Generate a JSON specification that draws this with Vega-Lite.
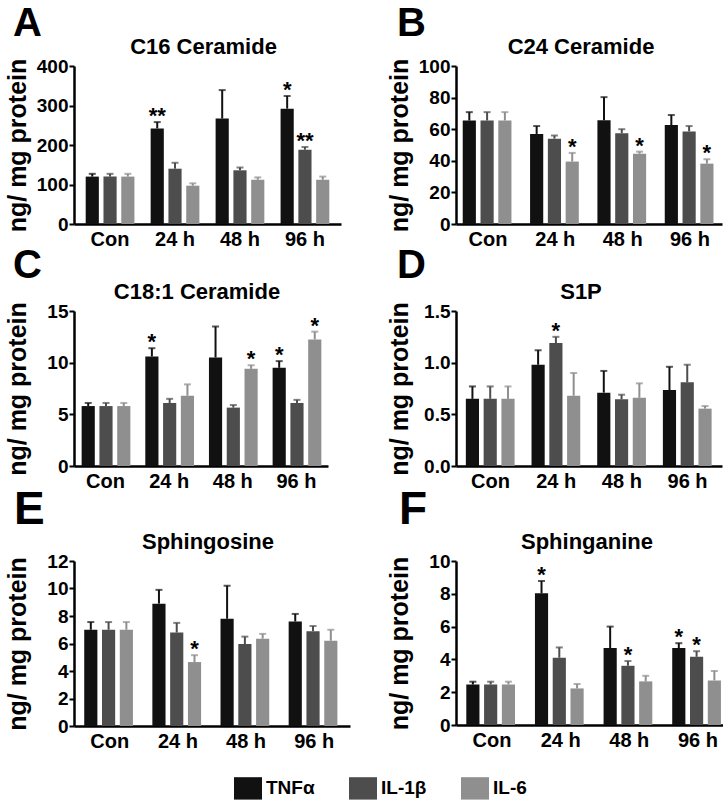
{
  "$schema": "https://vega.github.io/schema/vega-lite/v6.json",
  "padding": {"left": 5, "top": 4, "right": 0, "bottom": 0},
  "background": "white",
  "datasets": {
    "A": [
      {"time": "Con", "cytokine": "TNFα", "mean": 120, "upper": 127, "sig": ""},
      {"time": "Con", "cytokine": "IL-1β", "mean": 120, "upper": 127, "sig": ""},
      {"time": "Con", "cytokine": "IL-6", "mean": 120, "upper": 127, "sig": ""},
      {"time": "24 h", "cytokine": "TNFα", "mean": 242, "upper": 258, "sig": "**"},
      {"time": "24 h", "cytokine": "IL-1β", "mean": 140, "upper": 155, "sig": ""},
      {"time": "24 h", "cytokine": "IL-6", "mean": 97, "upper": 103, "sig": ""},
      {"time": "48 h", "cytokine": "TNFα", "mean": 267, "upper": 339, "sig": ""},
      {"time": "48 h", "cytokine": "IL-1β", "mean": 136, "upper": 143, "sig": ""},
      {"time": "48 h", "cytokine": "IL-6", "mean": 112, "upper": 118, "sig": ""},
      {"time": "96 h", "cytokine": "TNFα", "mean": 292, "upper": 324, "sig": "*"},
      {"time": "96 h", "cytokine": "IL-1β", "mean": 188, "upper": 195, "sig": "**"},
      {"time": "96 h", "cytokine": "IL-6", "mean": 112, "upper": 120, "sig": ""}
    ],
    "B": [
      {"time": "Con", "cytokine": "TNFα", "mean": 65.5, "upper": 70.8, "sig": ""},
      {"time": "Con", "cytokine": "IL-1β", "mean": 65.5, "upper": 70.8, "sig": ""},
      {"time": "Con", "cytokine": "IL-6", "mean": 65.5, "upper": 70.8, "sig": ""},
      {"time": "24 h", "cytokine": "TNFα", "mean": 57, "upper": 62, "sig": ""},
      {"time": "24 h", "cytokine": "IL-1β", "mean": 54, "upper": 56, "sig": ""},
      {"time": "24 h", "cytokine": "IL-6", "mean": 39.5, "upper": 45, "sig": "*"},
      {"time": "48 h", "cytokine": "TNFα", "mean": 65.7, "upper": 80.3, "sig": ""},
      {"time": "48 h", "cytokine": "IL-1β", "mean": 57.5, "upper": 60, "sig": ""},
      {"time": "48 h", "cytokine": "IL-6", "mean": 44.5, "upper": 45.8, "sig": "*"},
      {"time": "96 h", "cytokine": "TNFα", "mean": 62.6, "upper": 69, "sig": ""},
      {"time": "96 h", "cytokine": "IL-1β", "mean": 58.6, "upper": 62, "sig": ""},
      {"time": "96 h", "cytokine": "IL-6", "mean": 38.2, "upper": 41, "sig": "*"}
    ],
    "C": [
      {"time": "Con", "cytokine": "TNFα", "mean": 5.8, "upper": 6.1, "sig": ""},
      {"time": "Con", "cytokine": "IL-1β", "mean": 5.8, "upper": 6.1, "sig": ""},
      {"time": "Con", "cytokine": "IL-6", "mean": 5.8, "upper": 6.1, "sig": ""},
      {"time": "24 h", "cytokine": "TNFα", "mean": 10.6, "upper": 11.4, "sig": "*"},
      {"time": "24 h", "cytokine": "IL-1β", "mean": 6.1, "upper": 6.5, "sig": ""},
      {"time": "24 h", "cytokine": "IL-6", "mean": 6.8, "upper": 7.9, "sig": ""},
      {"time": "48 h", "cytokine": "TNFα", "mean": 10.5, "upper": 13.5, "sig": ""},
      {"time": "48 h", "cytokine": "IL-1β", "mean": 5.65, "upper": 5.9, "sig": ""},
      {"time": "48 h", "cytokine": "IL-6", "mean": 9.4, "upper": 9.75, "sig": "*"},
      {"time": "96 h", "cytokine": "TNFα", "mean": 9.5, "upper": 10.15, "sig": "*"},
      {"time": "96 h", "cytokine": "IL-1β", "mean": 6.1, "upper": 6.4, "sig": ""},
      {"time": "96 h", "cytokine": "IL-6", "mean": 12.25, "upper": 13.0, "sig": "*"}
    ],
    "D": [
      {"time": "Con", "cytokine": "TNFα", "mean": 0.65, "upper": 0.77, "sig": ""},
      {"time": "Con", "cytokine": "IL-1β", "mean": 0.65, "upper": 0.77, "sig": ""},
      {"time": "Con", "cytokine": "IL-6", "mean": 0.65, "upper": 0.77, "sig": ""},
      {"time": "24 h", "cytokine": "TNFα", "mean": 0.98, "upper": 1.12, "sig": ""},
      {"time": "24 h", "cytokine": "IL-1β", "mean": 1.19, "upper": 1.25, "sig": "*"},
      {"time": "24 h", "cytokine": "IL-6", "mean": 0.68, "upper": 0.9, "sig": ""},
      {"time": "48 h", "cytokine": "TNFα", "mean": 0.71, "upper": 0.92, "sig": ""},
      {"time": "48 h", "cytokine": "IL-1β", "mean": 0.645, "upper": 0.69, "sig": ""},
      {"time": "48 h", "cytokine": "IL-6", "mean": 0.66, "upper": 0.8, "sig": ""},
      {"time": "96 h", "cytokine": "TNFα", "mean": 0.735, "upper": 0.96, "sig": ""},
      {"time": "96 h", "cytokine": "IL-1β", "mean": 0.81, "upper": 0.98, "sig": ""},
      {"time": "96 h", "cytokine": "IL-6", "mean": 0.555, "upper": 0.58, "sig": ""}
    ],
    "E": [
      {"time": "Con", "cytokine": "TNFα", "mean": 7.0, "upper": 7.56, "sig": ""},
      {"time": "Con", "cytokine": "IL-1β", "mean": 7.0, "upper": 7.56, "sig": ""},
      {"time": "Con", "cytokine": "IL-6", "mean": 7.0, "upper": 7.56, "sig": ""},
      {"time": "24 h", "cytokine": "TNFα", "mean": 8.9, "upper": 9.9, "sig": ""},
      {"time": "24 h", "cytokine": "IL-1β", "mean": 6.8, "upper": 7.5, "sig": ""},
      {"time": "24 h", "cytokine": "IL-6", "mean": 4.65, "upper": 5.15, "sig": "*"},
      {"time": "48 h", "cytokine": "TNFα", "mean": 7.8, "upper": 10.2, "sig": ""},
      {"time": "48 h", "cytokine": "IL-1β", "mean": 5.96, "upper": 6.5, "sig": ""},
      {"time": "48 h", "cytokine": "IL-6", "mean": 6.35, "upper": 6.7, "sig": ""},
      {"time": "96 h", "cytokine": "TNFα", "mean": 7.6, "upper": 8.15, "sig": ""},
      {"time": "96 h", "cytokine": "IL-1β", "mean": 6.9, "upper": 7.27, "sig": ""},
      {"time": "96 h", "cytokine": "IL-6", "mean": 6.2, "upper": 7.0, "sig": ""}
    ],
    "F": [
      {"time": "Con", "cytokine": "TNFα", "mean": 2.47, "upper": 2.64, "sig": ""},
      {"time": "Con", "cytokine": "IL-1β", "mean": 2.47, "upper": 2.64, "sig": ""},
      {"time": "Con", "cytokine": "IL-6", "mean": 2.47, "upper": 2.64, "sig": ""},
      {"time": "24 h", "cytokine": "TNFα", "mean": 8.03, "upper": 8.78, "sig": "*"},
      {"time": "24 h", "cytokine": "IL-1β", "mean": 4.1, "upper": 4.73, "sig": ""},
      {"time": "24 h", "cytokine": "IL-6", "mean": 2.23, "upper": 2.5, "sig": ""},
      {"time": "48 h", "cytokine": "TNFα", "mean": 4.69, "upper": 6.0, "sig": ""},
      {"time": "48 h", "cytokine": "IL-1β", "mean": 3.61, "upper": 3.9, "sig": "*"},
      {"time": "48 h", "cytokine": "IL-6", "mean": 2.66, "upper": 3.0, "sig": ""},
      {"time": "96 h", "cytokine": "TNFα", "mean": 4.69, "upper": 4.99, "sig": "*"},
      {"time": "96 h", "cytokine": "IL-1β", "mean": 4.16, "upper": 4.5, "sig": "*"},
      {"time": "96 h", "cytokine": "IL-6", "mean": 2.72, "upper": 3.3, "sig": ""}
    ]
  },
  "columns": 2,
  "spacing": {"row": -4, "column": 37},
  "concat": [
    {
      "title": {"text": "A", "anchor": "start", "frame": "bounds", "fontSize": 40, "fontWeight": "bold", "font": "Liberation Sans", "color": "#000", "dx": 8, "offset": -8},
      "vconcat": [{
        "width": 267, "height": 158,
        "title": {"text": "C16 Ceramide", "anchor": "middle", "frame": "group", "fontSize": 22, "fontWeight": "bold", "font": "Liberation Sans", "color": "#000", "offset": -2, "dx": -4},
        "data": {"name": "A"},
        "encoding": {
          "x": {"field": "time", "type": "nominal", "sort": ["Con", "24 h", "48 h", "96 h"], "scale": {"paddingInner": 0.25, "paddingOuter": 0.18}},
          "xOffset": {"field": "cytokine", "type": "nominal", "sort": ["TNFα", "IL-1β", "IL-6"], "scale": {"paddingInner": 0.26}}
        },
        "layer": [
          {"mark": {"type": "bar"}, "encoding": {"y": {"field": "mean", "type": "quantitative", "title": "ng/ mg protein", "scale": {"domain": [0, 400], "nice": false}, "axis": {"values": [0, 100, 200, 300, 400], "tickCount": 20, "format": "d"}}, "color": {"field": "cytokine", "type": "nominal", "scale": {"domain": ["TNFα", "IL-1β", "IL-6"], "range": ["#111111", "#4d4d4d", "#8f8f8f"]}, "legend": {"orient": "none", "legendX": 160, "legendY": 708, "direction": "horizontal", "title": null}}}},
          {"mark": {"type": "rule", "strokeWidth": 2}, "encoding": {"y": {"field": "mean", "type": "quantitative", "title": "ng/ mg protein"}, "y2": {"field": "upper"}, "stroke": {"field": "cytokine", "type": "nominal", "scale": {"domain": ["TNFα", "IL-1β", "IL-6"], "range": ["#111111", "#4d4d4d", "#8f8f8f"]}, "legend": null}}},
          {"mark": {"type": "tick", "thickness": 2, "size": 7}, "encoding": {"y": {"field": "upper", "type": "quantitative", "title": "ng/ mg protein"}, "fill": {"field": "cytokine", "type": "nominal", "scale": {"domain": ["TNFα", "IL-1β", "IL-6"], "range": ["#111111", "#4d4d4d", "#8f8f8f"]}, "legend": null}}},
          {"mark": {"type": "text", "fontSize": 22, "fontWeight": "bold", "baseline": "alphabetic", "dy": 1, "color": "#000"}, "encoding": {"y": {"field": "upper", "type": "quantitative", "title": "ng/ mg protein"}, "text": {"field": "sig"}}}
        ]
      }]
    },
    {
      "title": {"text": "B", "anchor": "start", "frame": "bounds", "fontSize": 40, "fontWeight": "bold", "font": "Liberation Sans", "color": "#000", "dx": 10, "offset": -8},
      "vconcat": [{
        "width": 266, "height": 158,
        "title": {"text": "C24 Ceramide", "anchor": "middle", "frame": "group", "fontSize": 22, "fontWeight": "bold", "font": "Liberation Sans", "color": "#000", "offset": -2, "dx": -8},
        "data": {"name": "B"},
        "encoding": {
          "x": {"field": "time", "type": "nominal", "sort": ["Con", "24 h", "48 h", "96 h"], "scale": {"paddingInner": 0.25, "paddingOuter": 0.1}},
          "xOffset": {"field": "cytokine", "type": "nominal", "sort": ["TNFα", "IL-1β", "IL-6"], "scale": {"paddingInner": 0.26}}
        },
        "layer": [
          {"mark": {"type": "bar"}, "encoding": {"y": {"field": "mean", "type": "quantitative", "title": "ng/ mg protein", "scale": {"domain": [0, 100], "nice": false}, "axis": {"values": [0, 20, 40, 60, 80, 100], "tickCount": 20, "format": "d"}}, "color": {"field": "cytokine", "type": "nominal"}}},
          {"mark": {"type": "rule", "strokeWidth": 2}, "encoding": {"y": {"field": "mean", "type": "quantitative", "title": "ng/ mg protein"}, "y2": {"field": "upper"}, "stroke": {"field": "cytokine", "type": "nominal", "legend": null}}},
          {"mark": {"type": "tick", "thickness": 2, "size": 7}, "encoding": {"y": {"field": "upper", "type": "quantitative", "title": "ng/ mg protein"}, "fill": {"field": "cytokine", "type": "nominal", "legend": null}}},
          {"mark": {"type": "text", "fontSize": 22, "fontWeight": "bold", "baseline": "alphabetic", "dy": 1, "color": "#000"}, "encoding": {"y": {"field": "upper", "type": "quantitative", "title": "ng/ mg protein"}, "text": {"field": "sig"}}}
        ]
      }]
    },
    {
      "title": {"text": "C", "anchor": "start", "frame": "bounds", "fontSize": 40, "fontWeight": "bold", "font": "Liberation Sans", "color": "#000", "dx": 8, "offset": -5},
      "vconcat": [{
        "width": 254, "height": 155,
        "title": {"text": "C18:1 Ceramide", "anchor": "middle", "frame": "group", "fontSize": 22, "fontWeight": "bold", "font": "Liberation Sans", "color": "#000", "offset": -2, "dx": -4},
        "data": {"name": "C"},
        "encoding": {
          "x": {"field": "time", "type": "nominal", "sort": ["Con", "24 h", "48 h", "96 h"], "scale": {"paddingInner": 0.25, "paddingOuter": 0.12}},
          "xOffset": {"field": "cytokine", "type": "nominal", "sort": ["TNFα", "IL-1β", "IL-6"], "scale": {"paddingInner": 0.26}}
        },
        "layer": [
          {"mark": {"type": "bar"}, "encoding": {"y": {"field": "mean", "type": "quantitative", "title": "ng/ mg protein", "scale": {"domain": [0, 15], "nice": false}, "axis": {"values": [0, 5, 10, 15], "tickCount": 20, "format": "d"}}, "color": {"field": "cytokine", "type": "nominal"}}},
          {"mark": {"type": "rule", "strokeWidth": 2}, "encoding": {"y": {"field": "mean", "type": "quantitative", "title": "ng/ mg protein"}, "y2": {"field": "upper"}, "stroke": {"field": "cytokine", "type": "nominal", "legend": null}}},
          {"mark": {"type": "tick", "thickness": 2, "size": 7}, "encoding": {"y": {"field": "upper", "type": "quantitative", "title": "ng/ mg protein"}, "fill": {"field": "cytokine", "type": "nominal", "legend": null}}},
          {"mark": {"type": "text", "fontSize": 22, "fontWeight": "bold", "baseline": "alphabetic", "dy": 1, "color": "#000"}, "encoding": {"y": {"field": "upper", "type": "quantitative", "title": "ng/ mg protein"}, "text": {"field": "sig"}}}
        ]
      }]
    },
    {
      "title": {"text": "D", "anchor": "start", "frame": "bounds", "fontSize": 40, "fontWeight": "bold", "font": "Liberation Sans", "color": "#000", "dx": 10, "offset": -5},
      "vconcat": [{
        "width": 266, "height": 155,
        "title": {"text": "S1P", "anchor": "middle", "frame": "group", "fontSize": 22, "fontWeight": "bold", "font": "Liberation Sans", "color": "#000", "offset": -2, "dx": -8},
        "data": {"name": "D"},
        "encoding": {
          "x": {"field": "time", "type": "nominal", "sort": ["Con", "24 h", "48 h", "96 h"], "scale": {"paddingInner": 0.25, "paddingOuter": 0.15}},
          "xOffset": {"field": "cytokine", "type": "nominal", "sort": ["TNFα", "IL-1β", "IL-6"], "scale": {"paddingInner": 0.26}}
        },
        "layer": [
          {"mark": {"type": "bar"}, "encoding": {"y": {"field": "mean", "type": "quantitative", "title": "ng/ mg protein", "scale": {"domain": [0, 1.5], "nice": false}, "axis": {"values": [0, 0.5, 1.0, 1.5], "format": ".1f", "tickCount": 20}}, "color": {"field": "cytokine", "type": "nominal"}}},
          {"mark": {"type": "rule", "strokeWidth": 2}, "encoding": {"y": {"field": "mean", "type": "quantitative", "title": "ng/ mg protein"}, "y2": {"field": "upper"}, "stroke": {"field": "cytokine", "type": "nominal", "legend": null}}},
          {"mark": {"type": "tick", "thickness": 2, "size": 7}, "encoding": {"y": {"field": "upper", "type": "quantitative", "title": "ng/ mg protein"}, "fill": {"field": "cytokine", "type": "nominal", "legend": null}}},
          {"mark": {"type": "text", "fontSize": 22, "fontWeight": "bold", "baseline": "alphabetic", "dy": 1, "color": "#000"}, "encoding": {"y": {"field": "upper", "type": "quantitative", "title": "ng/ mg protein"}, "text": {"field": "sig"}}}
        ]
      }]
    },
    {
      "title": {"text": "E", "anchor": "start", "frame": "bounds", "fontSize": 46, "fontWeight": "bold", "font": "Liberation Sans", "color": "#000", "dx": 9, "offset": -3},
      "vconcat": [{
        "width": 276, "height": 165,
        "title": {"text": "Sphingosine", "anchor": "middle", "frame": "group", "fontSize": 22, "fontWeight": "bold", "font": "Liberation Sans", "color": "#000", "offset": -2, "dx": -4},
        "data": {"name": "E"},
        "encoding": {
          "x": {"field": "time", "type": "nominal", "sort": ["Con", "24 h", "48 h", "96 h"], "scale": {"paddingInner": 0.25, "paddingOuter": 0.15}},
          "xOffset": {"field": "cytokine", "type": "nominal", "sort": ["TNFα", "IL-1β", "IL-6"], "scale": {"paddingInner": 0.26}}
        },
        "layer": [
          {"mark": {"type": "bar"}, "encoding": {"y": {"field": "mean", "type": "quantitative", "title": "ng/ mg protein", "scale": {"domain": [0, 12], "nice": false}, "axis": {"values": [0, 2, 4, 6, 8, 10, 12], "tickCount": 20, "format": "d"}}, "color": {"field": "cytokine", "type": "nominal"}}},
          {"mark": {"type": "rule", "strokeWidth": 2}, "encoding": {"y": {"field": "mean", "type": "quantitative", "title": "ng/ mg protein"}, "y2": {"field": "upper"}, "stroke": {"field": "cytokine", "type": "nominal", "legend": null}}},
          {"mark": {"type": "tick", "thickness": 2, "size": 7}, "encoding": {"y": {"field": "upper", "type": "quantitative", "title": "ng/ mg protein"}, "fill": {"field": "cytokine", "type": "nominal", "legend": null}}},
          {"mark": {"type": "text", "fontSize": 22, "fontWeight": "bold", "baseline": "alphabetic", "dy": 1, "color": "#000"}, "encoding": {"y": {"field": "upper", "type": "quantitative", "title": "ng/ mg protein"}, "text": {"field": "sig"}}}
        ]
      }]
    },
    {
      "title": {"text": "F", "anchor": "start", "frame": "bounds", "fontSize": 46, "fontWeight": "bold", "font": "Liberation Sans", "color": "#000", "dx": 12, "offset": -3},
      "vconcat": [{
        "width": 278, "height": 164,
        "title": {"text": "Sphinganine", "anchor": "middle", "frame": "group", "fontSize": 22, "fontWeight": "bold", "font": "Liberation Sans", "color": "#000", "offset": -2, "dx": -8},
        "data": {"name": "F"},
        "encoding": {
          "x": {"field": "time", "type": "nominal", "sort": ["Con", "24 h", "48 h", "96 h"], "scale": {"paddingInner": 0.25, "paddingOuter": 0.15}},
          "xOffset": {"field": "cytokine", "type": "nominal", "sort": ["TNFα", "IL-1β", "IL-6"], "scale": {"paddingInner": 0.26}}
        },
        "layer": [
          {"mark": {"type": "bar"}, "encoding": {"y": {"field": "mean", "type": "quantitative", "title": "ng/ mg protein", "scale": {"domain": [0, 10], "nice": false}, "axis": {"values": [0, 2, 4, 6, 8, 10], "tickCount": 20, "format": "d"}}, "color": {"field": "cytokine", "type": "nominal"}}},
          {"mark": {"type": "rule", "strokeWidth": 2}, "encoding": {"y": {"field": "mean", "type": "quantitative", "title": "ng/ mg protein"}, "y2": {"field": "upper"}, "stroke": {"field": "cytokine", "type": "nominal", "legend": null}}},
          {"mark": {"type": "tick", "thickness": 2, "size": 7}, "encoding": {"y": {"field": "upper", "type": "quantitative", "title": "ng/ mg protein"}, "fill": {"field": "cytokine", "type": "nominal", "legend": null}}},
          {"mark": {"type": "text", "fontSize": 22, "fontWeight": "bold", "baseline": "alphabetic", "dy": 1, "color": "#000"}, "encoding": {"y": {"field": "upper", "type": "quantitative", "title": "ng/ mg protein"}, "text": {"field": "sig"}}}
        ]
      }]
    }
  ],
  "resolve": {"scale": {"color": "shared", "stroke": "shared", "fill": "shared"}},
  "config": {
    "view": {"stroke": null},
    "font": "Liberation Sans",
    "axis": {"grid": false, "labelFont": "Liberation Sans", "labelFontWeight": "bold", "labelColor": "#000", "domainColor": "#000", "domainWidth": 2.5, "tickColor": "#000", "tickWidth": 2, "titleFont": "Liberation Sans", "titleFontWeight": "bold", "titleColor": "#000", "labelOverlap": false},
    "axisX": {"ticks": false, "labelFontSize": 20, "labelAngle": 0, "title": null, "labelPadding": 5},
    "axisY": {"labelFontSize": 19, "tickSize": 5, "labelPadding": 1, "titleFontSize": 25, "minExtent": 40, "maxExtent": 40, "titlePadding": 4},
    "legend": {"symbolType": "M-1,-0.8H1V0.8H-1Z", "symbolSize": 784, "symbolStrokeWidth": 0, "labelFont": "Liberation Sans", "labelFontWeight": "bold", "labelFontSize": 19, "labelColor": "#000", "labelOffset": 4, "columnPadding": 34}
  }
}
